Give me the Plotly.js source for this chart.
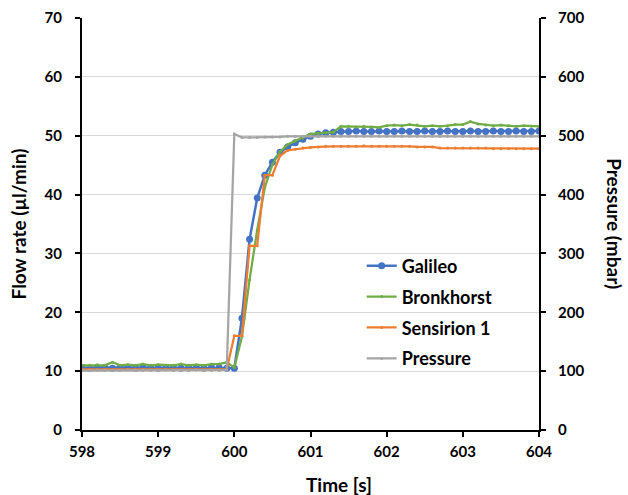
<!DOCTYPE html>
<html><head><meta charset="utf-8">
<script src="https://cdn.plot.ly/plotly-3.0.1.min.js"></script>
<style>html,body{margin:0;padding:0;background:#fff}#chart{width:628px;height:495px}</style>
</head><body><div id="chart"></div>
<script>
const time = [598.0,598.1,598.2,598.3,598.4,598.5,598.6,598.7,598.8,598.9,
599.0,599.1,599.2,599.3,599.4,599.5,599.6,599.7,599.8,599.9,
600.0,600.1,600.2,600.3,600.4,600.5,600.6,600.7,600.8,600.9,
601.0,601.1,601.2,601.3,601.4,601.5,601.6,601.7,601.8,601.9,
602.0,602.1,602.2,602.3,602.4,602.5,602.6,602.7,602.8,602.9,
603.0,603.1,603.2,603.3,603.4,603.5,603.6,603.7,603.8,603.9,604.0];

const galileo = [10.6,10.5,10.6,10.6,10.5,10.6,10.6,10.5,10.6,10.6,
10.5,10.6,10.6,10.5,10.6,10.6,10.5,10.6,10.6,10.5,
10.5,19.0,32.4,39.4,43.3,45.5,47.2,48.1,48.8,49.4,
49.9,50.3,50.5,50.6,50.7,50.7,50.8,50.7,50.7,50.8,
50.7,50.7,50.8,50.7,50.7,50.8,50.7,50.7,50.8,50.7,
50.7,50.8,50.7,50.7,50.8,50.7,50.7,50.8,50.7,50.7,50.8];

const bronkhorst = [11.0,11.0,11.1,11.0,11.5,11.0,11.1,11.0,11.2,11.0,
11.1,11.0,11.0,11.2,11.0,11.1,11.0,11.2,11.2,11.5,
10.6,15.9,25.5,34.0,41.2,45.1,47.3,48.5,49.1,49.6,
50.3,50.4,50.5,50.6,51.6,51.6,51.5,51.6,51.5,51.4,
51.7,51.8,51.7,51.9,51.8,51.6,51.7,51.6,51.7,51.9,
51.9,52.4,52.0,51.8,51.7,51.8,51.7,51.6,51.7,51.6,51.6];

const sensirion = [10.3,10.3,10.2,10.3,10.3,10.2,10.3,10.3,10.3,10.2,
10.3,10.3,10.2,10.3,10.3,10.3,10.2,10.3,10.3,10.3,
16.0,16.0,31.3,31.3,43.3,43.3,46.6,47.5,47.7,47.9,
48.0,48.1,48.2,48.2,48.2,48.2,48.2,48.3,48.2,48.2,
48.2,48.2,48.2,48.2,48.1,48.1,48.1,47.9,47.9,47.9,
47.9,47.9,47.9,47.9,47.8,47.8,47.8,47.8,47.8,47.8,47.8];

const pressure = [101,101,102,101,101,101,102,101,101,101,
101,102,101,101,101,102,101,101,101,102,
503,497,497,497,498,498,498,499,499,499,
499,499,499,499,499,499,499,499,499,499,
499,499,499,499,499,499,499,499,499,499,
499,499,499,499,499,499,499,499,499,499,499];

const xTitle = 'Time [s]';
const yTitle = 'Flow rate (µl/min)';
const y2Title = 'Pressure (mbar)';

const F = 'Lato, "Open Sans", sans-serif';
const traces = [
 {x: time, y: galileo, name: 'Galileo', mode: 'lines+markers', legendgroup: 'a',
  line: {color: '#4472C4', width: 2.5}, marker: {color: '#4472C4', size: 7}},
 {x: time, y: bronkhorst, name: 'Bronkhorst', mode: 'lines+markers', legendgroup: 'b',
  line: {color: '#70AD47', width: 2.25}, marker: {color: '#70AD47', size: 3}},
 {x: time, y: sensirion, name: 'Sensirion 1', mode: 'lines+markers', legendgroup: 'c',
  line: {color: '#ED7D31', width: 2.25}, marker: {color: '#ED7D31', size: 3}},
 {x: time, y: pressure, name: 'Pressure', mode: 'lines+markers', legendgroup: 'd', yaxis: 'y2',
  line: {color: '#A5A5A5', width: 2.25}, marker: {color: '#A5A5A5', size: 3}}
];
const tickf = {family: F, size: 15, color: '#000', weight: 'bold'};
const titf = {family: F, size: 19, color: '#000', weight: 'bold'};
const axCommon = {zeroline: false, showline: true, linecolor: '#000', linewidth: 2,
  ticks: 'outside', ticklen: 5, tickwidth: 2, tickcolor: '#000', tickfont: tickf};
const layout = {
 width: 628, height: 495,
 margin: {l: 82, r: 89, t: 18, b: 65},
 paper_bgcolor: '#fff', plot_bgcolor: '#fff',
 showlegend: true,
 legend: {x: 0.612, y: 0.443, xanchor: 'left', yanchor: 'top',
  font: {family: F, size: 18, color: '#000', weight: 'bold'},
  tracegroupgap: 4.5, bgcolor: 'rgba(255,255,255,0)'},
 xaxis: Object.assign({range: [598, 604], dtick: 1, tick0: 598, showgrid: false, ticklabelstandoff: 2}, axCommon),
 yaxis: Object.assign({range: [0, 70], dtick: 10, showgrid: true, gridcolor: '#d9d9d9', gridwidth: 1, ticklabelstandoff: 10}, axCommon),
 yaxis2: Object.assign({range: [0, 700], dtick: 100, overlaying: 'y', side: 'right', showgrid: false, ticklabelstandoff: 9}, axCommon),
 annotations: [
  {text: xTitle, xref: 'paper', yref: 'paper', x: 0.562, y: -0.133, xanchor: 'center', yanchor: 'middle', showarrow: false, font: titf},
  {text: yTitle, xref: 'paper', yref: 'paper', x: -0.139, y: 0.5, xanchor: 'center', yanchor: 'middle', showarrow: false, textangle: -90, font: titf},
  {text: y2Title, xref: 'paper', yref: 'paper', x: 1.166, y: 0.5, xanchor: 'center', yanchor: 'middle', showarrow: false, textangle: 90, font: titf}
 ]
};
Plotly.newPlot('chart', traces, layout, {staticPlot: true, displayModeBar: false});
</script></body></html>
